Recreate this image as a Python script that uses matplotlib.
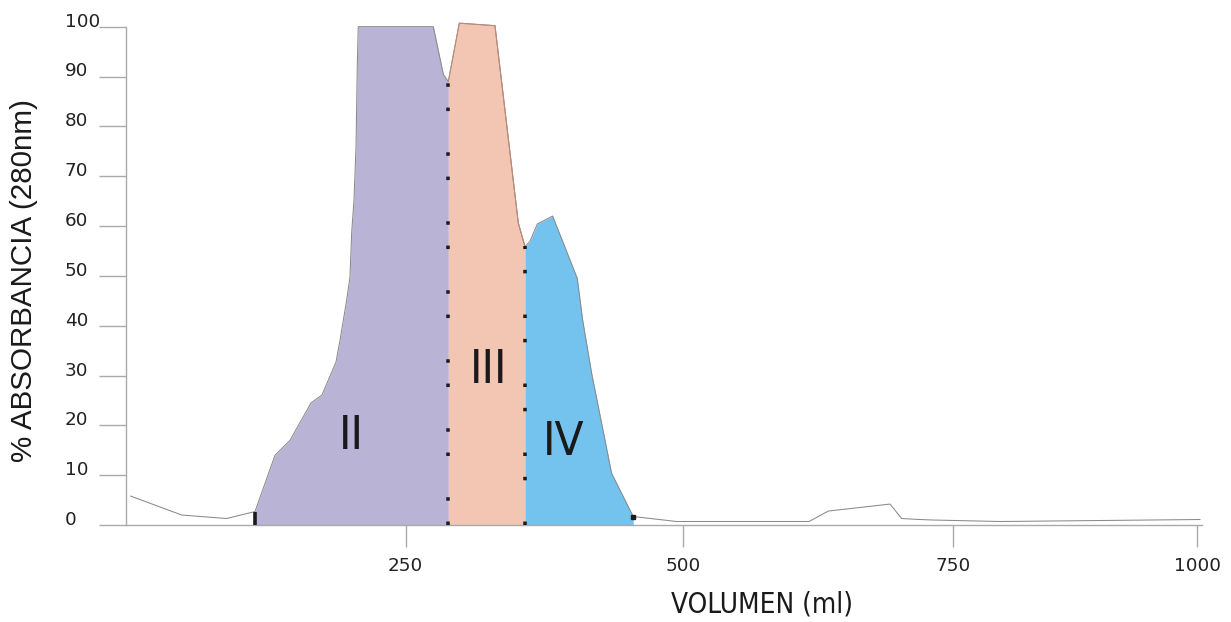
import numpy as np
import matplotlib
matplotlib.use("Agg")
import matplotlib.pyplot as plt
from matplotlib import transforms
from matplotlib import font_manager

# Elution profile: eluted volume (ml) vs. % absorbance at 280 nm
volume = [4.2, 49.8, 90.0, 115.3, 133.2, 146.6, 165.4, 175.2, 187.7, 191.3,
          197.3, 200.2, 201.7, 203.8, 205.6, 206.7, 207.6, 274.9, 283.9, 288.4,
          298.3, 330.4, 351.4, 357.4, 361.9, 368.5, 382.3, 404.5, 409.3, 417.4,
          435.4, 454.9, 494.1, 616.4, 634.3, 691.4, 702.2, 719.2, 731.2, 797.8,
          900.3, 1002.7]
absorbance = [5.8, 2.0, 1.3, 2.7, 14.0, 17.0, 24.5, 26.1, 32.7, 37.1,
              45.2, 49.8, 58.6, 65.3, 76.0, 92.0, 100.0, 100.0, 90.4, 89.0,
              100.7, 100.2, 60.6, 55.9, 56.9, 60.4, 62.0, 49.5, 41.2, 30.5,
              10.4, 1.7, 0.7, 0.7, 2.8, 4.2, 1.3, 1.1, 1.0, 0.7,
              0.9, 1.1]

# Pooled fractions: boundaries (ml), names, fill colours
fraction_bounds = [115.3, 288.4, 357.4, 454.9]
fraction_names = ["II", "III", "IV"]
fraction_colors = ["#B9B3D6", "#F3C6B3", "#74C3EE"]
fraction_label_vol = [201.0, 325.0, 392.0]
fraction_label_abs = [17.7, 31.1, 16.5]

xticks = [250, 500, 750, 1000]
yticks = [0, 10, 20, 30, 40, 50, 60, 70, 80, 90, 100]

# Volume axis as drawn on the original plot (piecewise linear spacing)
knots_ml = np.array([-10.0, 0.0, 250.0, 500.0, 750.0, 1000.0, 1010.0])
knots_pos = np.array([114.8, 126.0, 405.7, 683.3, 953.3, 1197.3, 1207.1])


def fwd(x):
    return np.interp(x, knots_ml, knots_pos)


def inv(p):
    return np.interp(p, knots_pos, knots_ml)


# Narrow face for the fraction names and the volume label
installed = {f.name for f in font_manager.fontManager.ttflist}
narrow = {"family": "DejaVu Sans", "stretch": "condensed"}
for cand in ("Liberation Sans Narrow", "DejaVu Sans Condensed"):
    if cand in installed:
        narrow = {"family": cand, "stretch": "normal"}
        break

W, H = 1231, 622
fig = plt.figure(figsize=(W / 100, H / 100), dpi=100)
ax = fig.add_axes([126 / W, 97 / H, 1076 / W, 508.3 / H])
ax.set_xscale("function", functions=(fwd, inv))

vol = np.array(volume)
ab = np.array(absorbance)

# Coloured fractions under the curve
for lo, hi, col in zip(fraction_bounds[:-1], fraction_bounds[1:], fraction_colors):
    m = (vol >= lo) & (vol <= hi)
    ax.fill_between(vol[m], 0, ab[m], color=col, lw=0, zorder=1)

# Absorbance trace
ax.plot(vol, ab, color="#8a8a8a", lw=0.75, zorder=3)
m3 = (vol >= fraction_bounds[1]) & (vol <= fraction_bounds[2])
ax.plot(vol[m3], ab[m3], color="#c08a78", lw=0.75, zorder=3)

# Fraction cut marks
b0 = fraction_bounds[0]
ax.plot([b0, b0], [0, np.interp(b0, vol, ab)], color="#1a1a1a", lw=2.6,
        solid_capstyle="butt", zorder=4)
cut_styles = [(0, (1, 5.94, 1, 11.77)), (0, (1, 11.77, 1, 5.94))]
for b, ls in zip(fraction_bounds[1:3], cut_styles):
    ax.plot([b, b], [0, np.interp(b, vol, ab)], color="#1a1a1a", lw=2.52,
            linestyle=ls, dash_capstyle="butt", zorder=4)
b_end = fraction_bounds[-1]
ax.plot([b_end], [np.interp(b_end, vol, ab)], marker="s", ms=3.4,
        color="#1a1a1a", lw=0, zorder=4)

# Fraction names
for name, xv, yv in zip(fraction_names, fraction_label_vol, fraction_label_abs):
    ax.text(xv, yv, name, ha="center", va="center", fontsize=34,
            family=narrow["family"], fontstretch=narrow["stretch"],
            color="#1a1a1a", zorder=5)

# Axes styling
ax.set_xlim(0, inv(1202.0))
ax.set_ylim(0, 102)
for s in ("top", "right"):
    ax.spines[s].set_visible(False)
for s in ("left", "bottom"):
    ax.spines[s].set_color("#aaaaaa")
    ax.spines[s].set_linewidth(1.0)
ax.spines["left"].set_bounds(0, 100)

ax.set_xticks(xticks)
ax.set_xticklabels([str(t) for t in xticks])
ax.xaxis.set_minor_locator(matplotlib.ticker.NullLocator())
ax.tick_params(axis="x", direction="out", length=15.8, width=1.0,
               color="#aaaaaa", pad=7, labelsize=13.2, labelcolor="#222222")
for lbl in ax.get_xticklabels():
    lbl.set_family("DejaVu Sans")

ax.set_yticks(yticks)
ax.tick_params(axis="y", direction="out", length=19.4, width=1.0,
               color="#aaaaaa", labelleft=False)
ylab_tr = transforms.offset_copy(ax.get_yaxis_transform(), fig=fig,
                                 x=-61, y=0, units="dots")
for v in yticks:
    ax.text(0, v, str(v), transform=ylab_tr, ha="left", va="baseline",
            fontsize=13.2, family="DejaVu Sans", color="#222222")

ax.set_xlabel("VOLUMEN (ml)", fontsize=20, family=narrow["family"],
              fontstretch=narrow["stretch"], color="#1a1a1a", va="center")
ax.xaxis.set_label_coords((761.7 - 126) / 1076, (18 - 97) / 508.3)
ax.set_ylabel("% ABSORBANCIA (280nm)", fontsize=21.3,
              family=["Liberation Sans", "DejaVu Sans"], color="#1a1a1a",
              va="center")
ax.yaxis.set_label_coords((24 - 126) / 1076, (342 - 97) / 508.3)

fig.savefig("out.png", dpi=100)
